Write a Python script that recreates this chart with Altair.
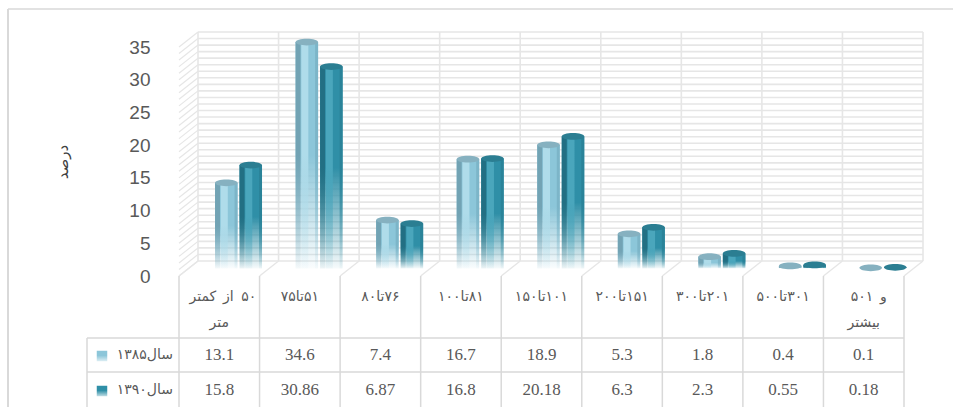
import altair as alt
import pandas as pd

# ---------------- data ----------------
categories = ["کمتر از ۵۰ متر", "۵۱تا۷۵", "۷۶تا۸۰", "۸۱تا۱۰۰", "۱۰۱تا۱۵۰",
              "۱۵۱تا۲۰۰", "۲۰۱تا۳۰۰", "۳۰۱تا۵۰۰", "۵۰۱ و بیشتر"]
# header cells of the data table, as two printed lines each
header_line1 = ["کمتر از ۵۰", "۵۱تا۷۵", "۷۶تا۸۰", "۸۱تا۱۰۰", "۱۰۱تا۱۵۰",
                "۱۵۱تا۲۰۰", "۲۰۱تا۳۰۰", "۳۰۱تا۵۰۰", "۵۰۱ و"]
header_line2 = ["متر", "", "", "", "", "", "", "", "بیشتر"]
series_names = ["سال۱۳۸۵", "سال۱۳۹۰"]
values_1385 = [13.1, 34.6, 7.4, 16.7, 18.9, 5.3, 1.8, 0.4, 0.1]
values_1390 = [15.8, 30.86, 6.87, 16.8, 20.18, 6.3, 2.3, 0.55, 0.18]
y_ticks = [0, 5, 10, 15, 20, 25, 30, 35]
y_title = "درصد"

# ---------------- layout / style ----------------
W, H = 735, 360          # plot box (table included below the bars)
PLOT_H = 229             # pixel height of the 0..35 value range
DXB, DYB = 19, -15       # depth shift of the back wall
DXM, DYM = 9.5, -7.5     # depth shift of the bar row
BAR_W = 22.5
RLE, PDF = "\u202b", "\u202c"
HEAD_FS = 14
PERSIAN_DIGITS = "۰۱۲۳۴۵۶۷۸۹"

GRID = "#e6e6e6"
TABLE_LINE = "#d9d9d9"
TEXT = "#595959"

LIGHT = {"offset": -2.5, "cap": "#86b1c0",
         "strips": [(0, BAR_W, "#8cc6d9"), (-8.75, 5, "#72a3b4"),
                    (-2, 7, "#afdcea"), (9.75, 3, "#7cb5c8")]}
DARK = {"offset": 22, "cap": "#2b7e92",
        "strips": [(0, BAR_W, "#2f8fa7"), (-8.75, 5, "#226f83"),
                   (-2, 7, "#4aa6bc"), (9.75, 3, "#2a8399")]}


def fade(hex_color, start=0.5, end_alpha=0.04):
    r, g, b = (int(hex_color[i:i + 2], 16) for i in (1, 3, 5))
    return alt.Gradient(
        gradient="linear", x1=0, y1=0, x2=0, y2=1,
        stops=[alt.GradientStop(color=hex_color, offset=0),
               alt.GradientStop(color=hex_color, offset=start),
               alt.GradientStop(color=f"rgba({r},{g},{b},{end_alpha})", offset=1)])


def word_width(word):
    """Rough advance width of a word at the header font size."""
    return sum((0.64 if ch in PERSIAN_DIGITS else 0.5) * HEAD_FS for ch in word)


df = pd.DataFrame({
    "idx": list(range(len(categories))),
    "cat": categories,
    "v1385": values_1385,
    "v1390": values_1390,
    # single-run header lines; multi-word lines are laid out word by word below
    "h1": ["" if " " in s else RLE + s + PDF for s in header_line1],
    "h2": header_line2,
    "t1385": [f"{v:g}" for v in values_1385],
    "t1390": [f"{v:g}" for v in values_1390],
})
grid_df = pd.DataFrame({"v": list(range(0, 36))})
bound_df = pd.DataFrame({"k": list(range(len(categories) + 1))})
one = pd.DataFrame({"a": [0]})

x_scale = alt.Scale(domain=[0, len(categories)], range=[0, W], nice=False, zero=False)
y_scale = alt.Scale(domain=[0, 35], range=[PLOT_H, 0], nice=False, zero=False)
y_axis = alt.Axis(values=y_ticks, domain=False, ticks=False, grid=False,
                  labelPadding=24, labelFont="Liberation Sans", labelFontSize=19,
                  labelColor=TEXT, title=y_title, titleFont="DejaVu Sans",
                  titleFontSize=15, titleFontWeight="normal", titleColor="#404040",
                  titleX=-104, titleBaseline="bottom", titleAngle=270)


def yq(field):
    return alt.Y(field, type="quantitative", scale=y_scale, axis=y_axis)


def xd(v):
    return alt.X(datum=v, scale=x_scale, axis=None)


layers = []

# side wall (diagonal hatching from front edge to back wall)
layers.append(alt.Chart(grid_df).mark_rule(
    color=GRID, strokeWidth=1.2, x2Offset=DXB, y2Offset=DYB).encode(
    x=xd(0), x2=alt.X2(datum=0), y=yq("v"), y2="v:Q"))

# back wall horizontal grid
layers.append(alt.Chart(grid_df).mark_rule(
    color=GRID, strokeWidth=1.6, xOffset=DXB, x2Offset=DXB,
    yOffset=DYB, y2Offset=DYB).encode(
    x=xd(0), x2=alt.X2(datum=len(categories)), y=yq("v"), y2="v:Q"))

# back wall vertical dividers
layers.append(alt.Chart(bound_df).mark_rule(
    color=GRID, strokeWidth=1.6, xOffset=DXB, x2Offset=DXB,
    yOffset=DYB, y2Offset=DYB).encode(
    x=alt.X("k:Q", scale=x_scale, axis=None), x2="k:Q",
    y=alt.Y(datum=0, scale=y_scale, axis=y_axis), y2=alt.Y2(datum=35)))

# floor dividers
layers.append(alt.Chart(bound_df).mark_rule(
    color=GRID, strokeWidth=1.4, x2Offset=DXB, y2Offset=DYB).encode(
    x=alt.X("k:Q", scale=x_scale, axis=None), x2="k:Q",
    y=alt.Y(datum=0, scale=y_scale, axis=y_axis), y2=alt.Y2(datum=0)))

# cylinders
ELLIPSE = "M -1 0 A 1 0.3 0 1 1 1 0 A 1 0.3 0 1 1 -1 0 Z"
for field, style in (("v1385", LIGHT), ("v1390", DARK)):
    base = alt.Chart(df).transform_calculate(xc="datum.idx + 0.5")
    for dx, w, col in style["strips"]:
        layers.append(base.mark_bar(
            width=w, xOffset=DXM + style["offset"] + dx, yOffset=DYM, y2Offset=DYM,
            fill=fade(col), strokeWidth=0).encode(
            x=alt.X("xc:Q", scale=x_scale, axis=None), y=yq(field),
            y2=alt.Y2(datum=0)))
    layers.append(base.mark_point(
        shape=ELLIPSE, size=BAR_W ** 2, filled=True, fill=style["cap"], opacity=1,
        strokeWidth=0, xOffset=DXM + style["offset"], yOffset=DYM).encode(
        x=alt.X("xc:Q", scale=x_scale, axis=None), y=yq(field)))

# ---------------- data table ----------------
T_TOP, T_ROW1, T_ROW2, T_BOTTOM = 229, 291, 325, 360
LEG_X = -92
HEAD_Y1, HEAD_Y2 = 250, 276

layers.append(alt.Chart(bound_df).mark_rule(color=TABLE_LINE, strokeWidth=1.5).encode(
    x=alt.X("k:Q", scale=x_scale, axis=None), y=alt.value(T_TOP), y2=alt.value(T_BOTTOM)))
for yy in (T_ROW1, T_ROW2):
    layers.append(alt.Chart(one).mark_rule(
        color=TABLE_LINE, strokeWidth=1.5, xOffset=LEG_X).encode(
        x=xd(0), x2=alt.X2(datum=len(categories)), y=alt.value(yy)))
layers.append(alt.Chart(one).mark_rule(
    color=TABLE_LINE, strokeWidth=1.5, xOffset=LEG_X).encode(
    x=xd(0), y=alt.value(T_ROW1), y2=alt.value(T_BOTTOM)))

tbase = alt.Chart(df).transform_calculate(xc="datum.idx + 0.5")
hx = alt.X("xc:Q", scale=x_scale, axis=None)
for field, yy in (("h1", HEAD_Y1), ("h2", HEAD_Y2)):
    layers.append(tbase.mark_text(font="DejaVu Sans", fontSize=HEAD_FS, color=TEXT).encode(
        x=hx, y=alt.value(yy), text=f"{field}:N"))

# multi-word header lines: words placed left to right, each word centred
for i, line in enumerate(header_line1):
    if " " not in line:
        continue
    words = line.split(" ")
    gap = 0.32 * HEAD_FS
    widths = [word_width(w) for w in words]
    cursor = -(sum(widths) + gap * (len(words) - 1)) / 2 + 4
    for word, w in zip(words, widths):
        wdf = pd.DataFrame({"idx": [i], "word": [word]})
        layers.append(alt.Chart(wdf).transform_calculate(xc="datum.idx + 0.5").mark_text(
            font="DejaVu Sans", fontSize=HEAD_FS, color=TEXT, xOffset=cursor + w / 2).encode(
            x=hx, y=alt.value(HEAD_Y1), text="word:N"))
        cursor += w + gap

for field, yy in (("t1385", 308), ("t1390", 343)):
    layers.append(tbase.mark_text(font="Liberation Serif", fontSize=17, color=TEXT).encode(
        x=hx, y=alt.value(yy), text=f"{field}:N"))

for name, yy, style in ((series_names[0], 308, LIGHT), (series_names[1], 343, DARK)):
    ldf = pd.DataFrame({"name": [name]})
    layers.append(alt.Chart(ldf).mark_text(
        font="DejaVu Sans", fontSize=14, color=TEXT, align="right", xOffset=-6).encode(
        x=xd(0), y=alt.value(yy), text="name:N"))
    layers.append(alt.Chart(ldf).mark_square(
        size=110, filled=True, fill=fade(style["strips"][0][2], 0.45, 0.3), opacity=1,
        strokeWidth=0, xOffset=-77).encode(x=xd(0), y=alt.value(yy + 1)))

# outer frame
layers.append(alt.Chart(one).mark_rule(color="#d9d9d9", strokeWidth=2).encode(
    x=alt.value(-166), y=alt.value(-38), y2=alt.value(H)))
layers.append(alt.Chart(one).mark_rule(color="#d9d9d9", strokeWidth=1.5).encode(
    x=alt.value(-166), x2=alt.value(W + 44), y=alt.value(-38)))

chart = alt.layer(*layers).properties(
    width=W, height=H,
    padding={"left": 174, "top": 47, "right": 44, "bottom": 0},
    autosize=alt.AutoSizeParams(type="none"),
    background="white",
).configure_view(stroke=None)

chart.save("out.html", embed_options={"renderer": "svg", "actions": False})
